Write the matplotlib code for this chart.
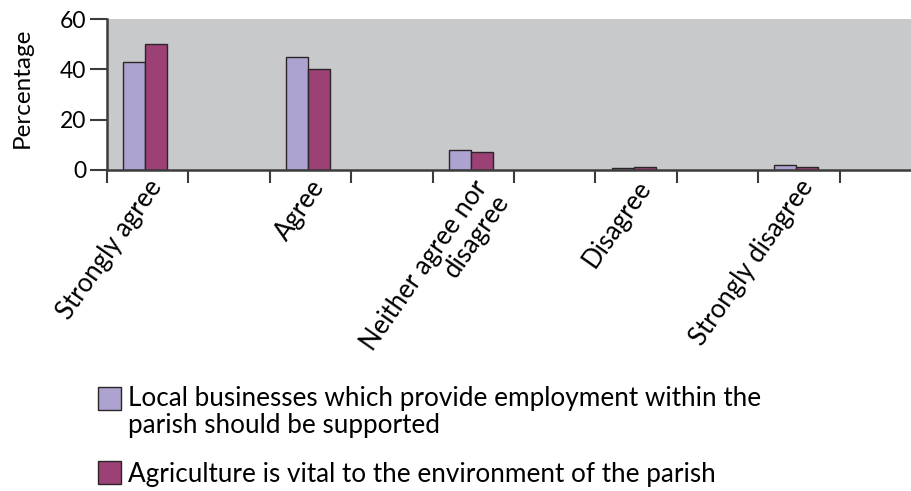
import matplotlib.pyplot as plt
import matplotlib.patches as mpatches
import matplotlib.transforms as mtransforms
import numpy as np

# 데이터
categories = ['Strongly agree', 'Agree', 'Neither agree nor\ndisagree', 'Disagree', 'Strongly disagree']
local_business = [43, 45, 8, 0.9, 2]
agriculture = [50, 40, 7, 1.3, 1.3]
series_labels = ['Local businesses which provide employment within the\nparish should be supported',
                 'Agriculture is vital to the environment of the parish']
y_ticks = [0, 20, 40, 60]

C_PURPLE = '#aea3d0'
C_MAROON = '#9c4176'
C_BG = '#c8c9cb'
C_EDGE = '#2b2527'
C_AXIS = '#3c3c3c'
FONT = 'Lato'

plt.rcParams['font.family'] = [FONT, 'DejaVu Sans']

fig = plt.figure(figsize=(9.12, 4.91), dpi=100)
ax = fig.add_axes([107 / 912, 1 - 170 / 491, 805 / 912, 151 / 491])
ax.set_facecolor(C_BG)

# 카테고리 사이에 빈 칸이 하나씩 있음
x = np.arange(len(categories)) * 2
w = 0.27
ax.bar(x - w / 2 - 0.03, local_business, w, color=C_PURPLE, edgecolor=C_EDGE, linewidth=1.0, zorder=3)
ax.bar(x + w / 2 - 0.03, agriculture, w, color=C_MAROON, edgecolor=C_EDGE, linewidth=1.0, zorder=3)

ax.set_xlim(-0.5, 9.39)
ax.set_ylim(0, 60)

ax.set_yticks(y_ticks)
ax.set_yticklabels([str(v) for v in y_ticks], fontsize=16.5)
ax.tick_params(axis='y', length=12, width=1.5, color=C_AXIS, pad=3)

# 경계 눈금 (minor), 라벨 (major)
ax.set_xticks(np.arange(-0.5, 9.0, 1.0), minor=True)
ax.set_xticks(x)
ax.set_xticklabels(categories, fontsize=18.5, rotation=55, ha='right', va='top',
                   rotation_mode='anchor', multialignment='right', linespacing=1.05)
ax.tick_params(axis='x', which='major', length=0, pad=4)
ax.tick_params(axis='x', which='minor', length=9, width=1.5, color=C_AXIS)
shift = mtransforms.ScaledTranslation(-1 / 100, 0, fig.dpi_scale_trans)
for lbl in ax.get_xticklabels():
    lbl.set_transform(lbl.get_transform() + shift)

for side in ['top', 'right']:
    ax.spines[side].set_visible(False)
for side in ['left', 'bottom']:
    ax.spines[side].set_color(C_AXIS)
    ax.spines[side].set_linewidth(1.8)
    ax.spines[side].set_zorder(4)

ax.set_ylabel('Percentage', fontsize=17.5)
ax.yaxis.set_label_coords(-0.092, 0.543)

# 범례 (직접 그리기)
legend_rows = [(387, 433), (461, 482)]
for (top, base), color, label in zip(legend_rows, [C_PURPLE, C_MAROON], series_labels):
    fig.patches.append(mpatches.Rectangle((98 / 912, 1 - (top + 23) / 491), 23 / 912, 23 / 491,
                                          transform=fig.transFigure, facecolor=color,
                                          edgecolor=C_EDGE, linewidth=1.0))
    fig.text(128 / 912, 1 - base / 491, label, fontsize=18.8, va='baseline', ha='left',
             linespacing=1.1)

fig.savefig('out.png', dpi=100)
